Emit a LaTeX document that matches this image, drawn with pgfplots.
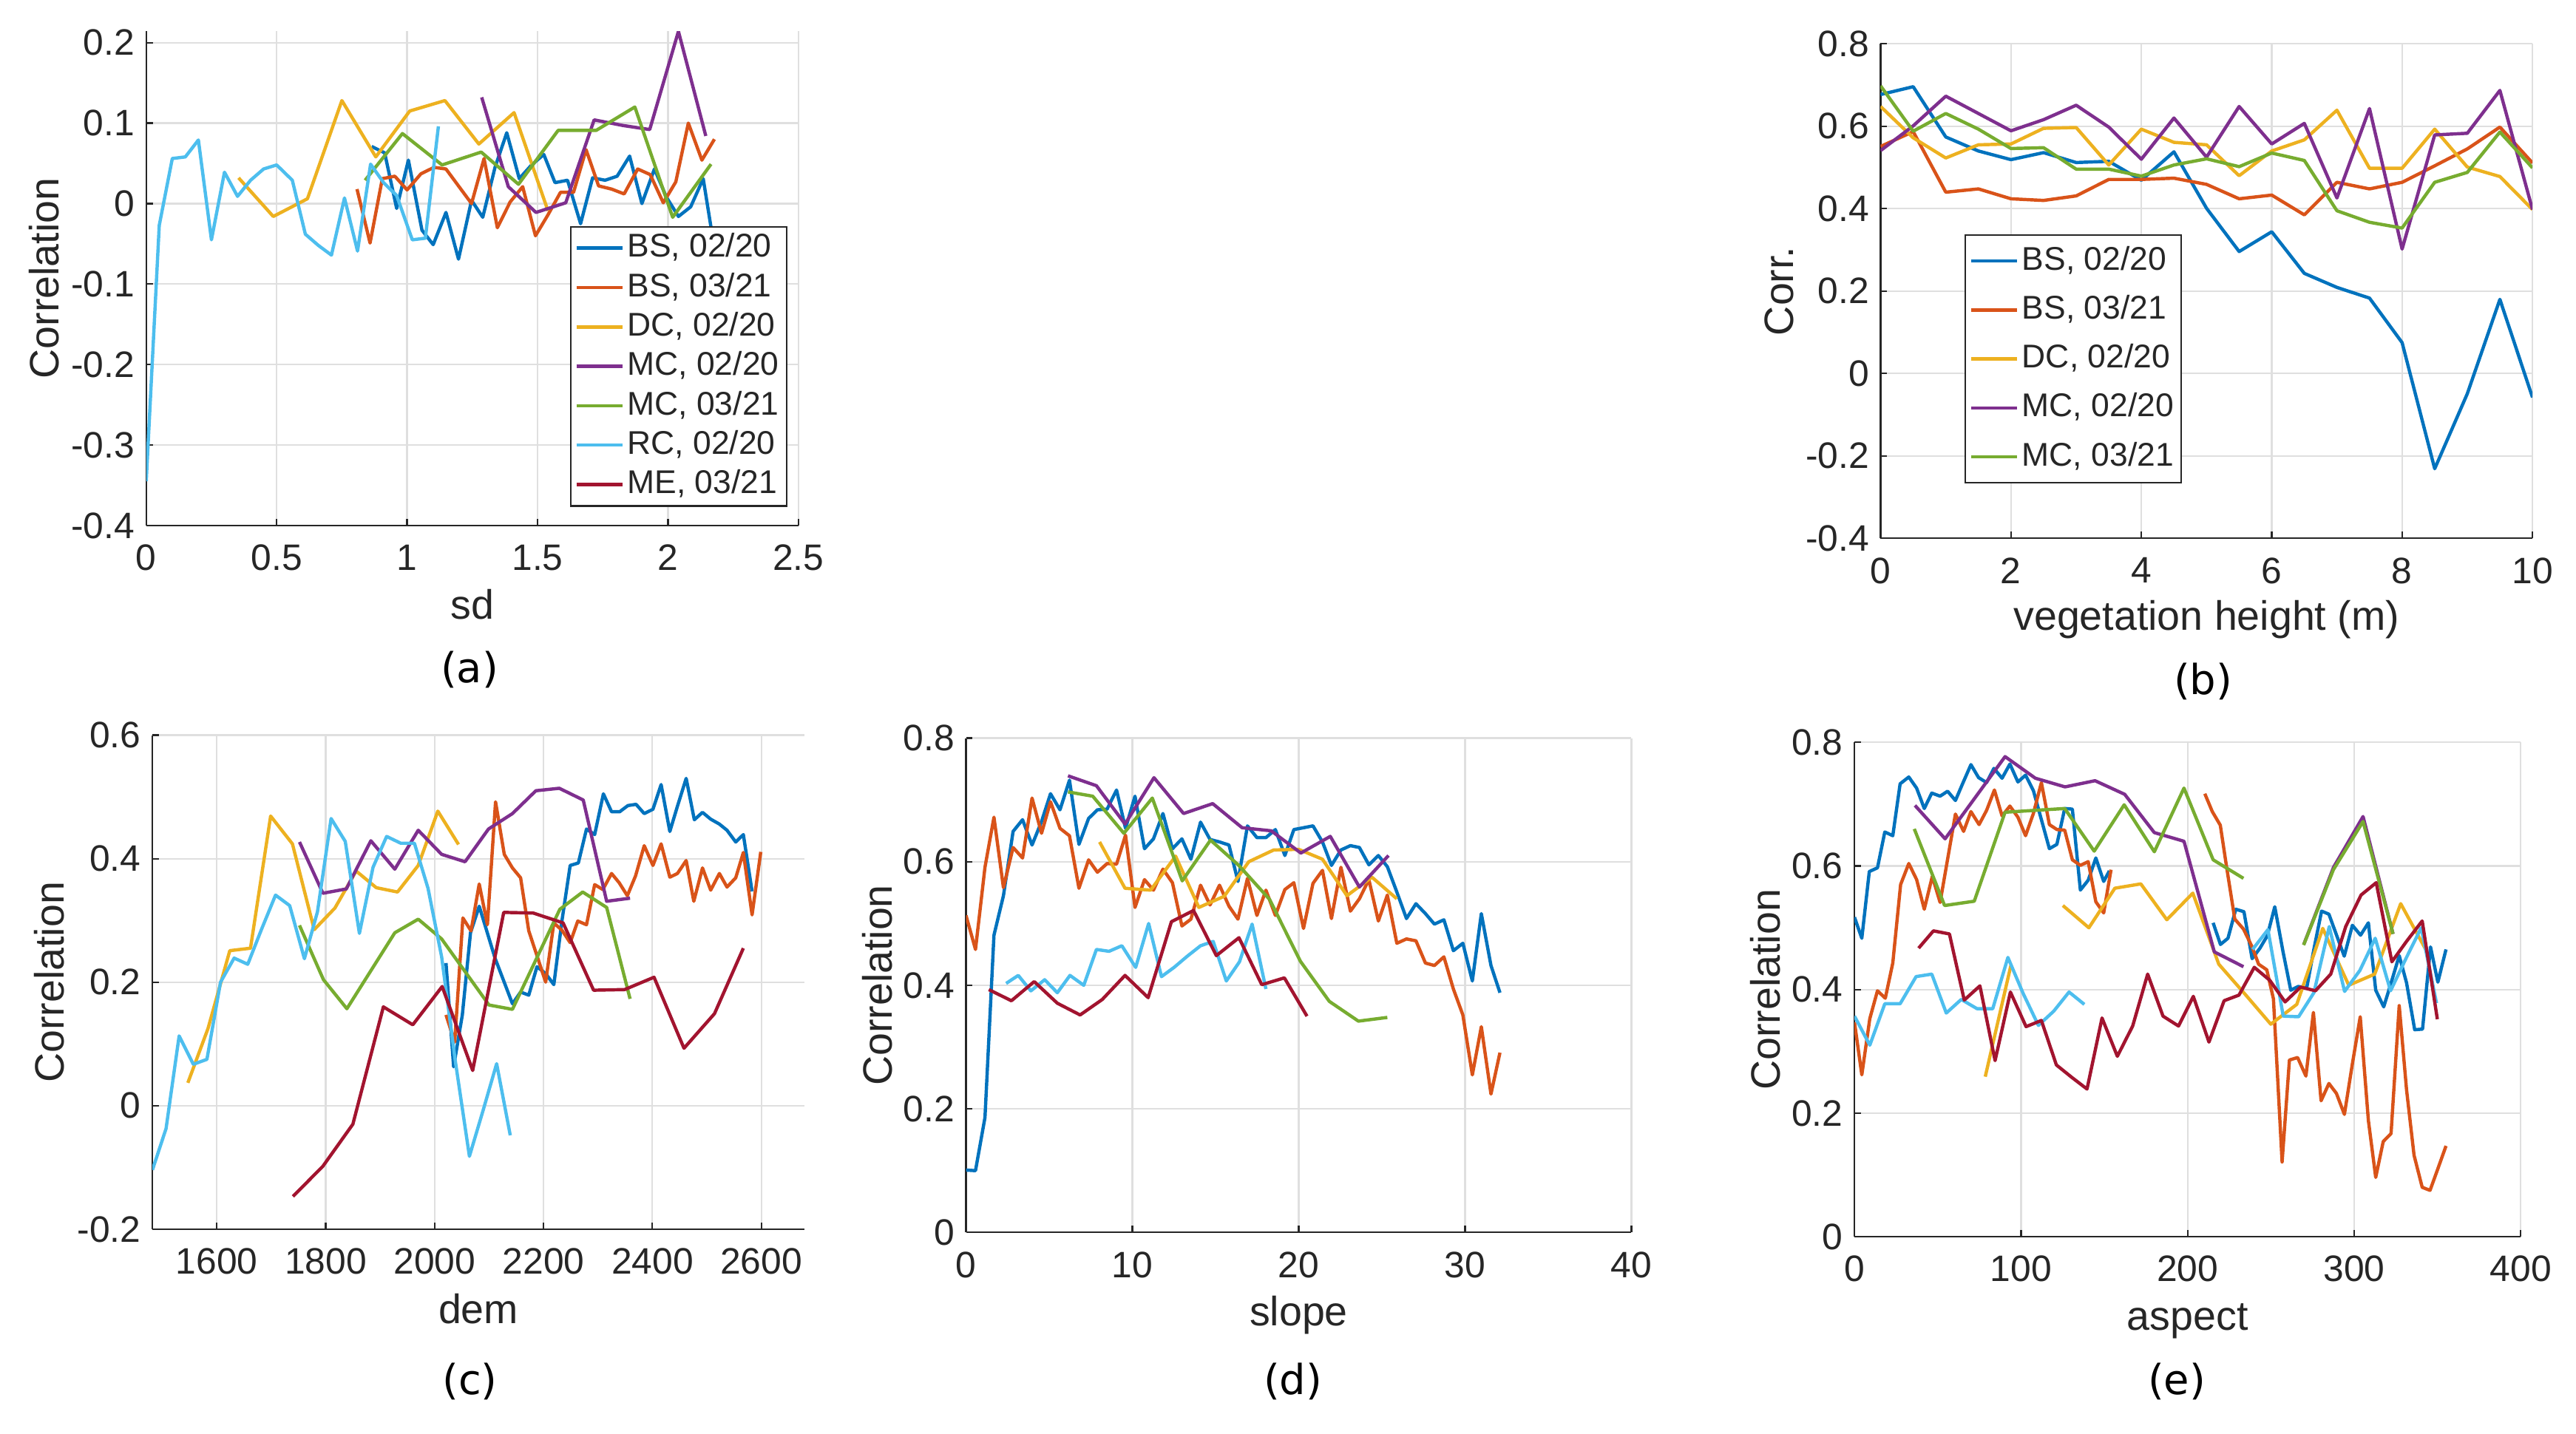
\documentclass[border=0pt]{standalone}
\usepackage{pgfplots}
\pgfplotsset{compat=1.18}
\usepackage{fontspec}
\setmainfont{Liberation Sans}
\newfontfamily\capfont{DejaVu Sans}
\definecolor{c1}{RGB}{0,114,189}
\definecolor{c2}{RGB}{217,83,25}
\definecolor{c3}{RGB}{237,177,32}
\definecolor{c4}{RGB}{126,47,142}
\definecolor{c5}{RGB}{119,172,48}
\definecolor{c6}{RGB}{77,190,238}
\definecolor{c7}{RGB}{162,20,47}
\definecolor{axgray}{RGB}{38,38,38}
\definecolor{gridgray}{RGB}{223,223,223}
\newcommand\tickfont{\fontsize{11.2}{13}\selectfont}
\newcommand\labfont{\fontsize{12.5}{15}\selectfont}
\newcommand\legfont{\fontsize{10}{12}\selectfont}
\pgfplotsset{
  mstyle/.style={
    scale only axis,
    axis x line*=bottom, axis y line*=left,
    axis line style={draw=axgray, line width=0.5pt},
    every tick/.style={draw=axgray, line width=0.5pt},
    tick align=inside,
    major tick length=2pt,
    xmajorgrids, ymajorgrids,
    major grid style={draw=gridgray, line width=0.5pt},
    tick label style={font=\tickfont, text=axgray},
    xticklabel style={yshift=-2.3pt},
    /pgf/number format/assume math mode=true,
    /pgf/number format/1000 sep={},
    scaled ticks=false,
    unbounded coords=jump,
    every axis plot/.append style={line width=1pt, line join=round, mark=none},
    legend image code/.code={\draw[##1, line width=1pt] (0pt,0pt) -- (14pt,0pt);},
    legend cell align=left,
  },
  mleg/.style={legend style={draw=axgray, line width=0.5pt, fill=white, font=\legfont, text=axgray,
    inner xsep=1.3pt, inner ysep=0.5pt, row sep=0pt, column sep=0pt,
    nodes={inner xsep=1pt, inner ysep=#1, text height=7.5pt, text depth=2pt}}},
}
\begin{document}
\begin{tikzpicture}
\useasboundingbox (0,0) rectangle (784pt,436.5pt);
% ---------------- (a)
\begin{axis}[mstyle, name=pa, at={(44.5pt,276.5pt)}, anchor=south west,
  width=198.5pt, height=150.5pt,
  xmin=0, xmax=2.5, ymin=-0.4, ymax=0.2142,
  xtick={0,0.5,1,1.5,2,2.5}, ytick={-0.4,-0.3,-0.2,-0.1,0,0.1,0.2},
  mleg=1.25pt,
  legend style={at={(rel axis cs:0.983,0.038)}, anchor=south east}]
\addplot[c1] coordinates {(0.864,0.071) (0.914,0.063) (0.96,-0.006) (1.005,0.054) (1.057,-0.033) (1.10,-0.051) (1.149,-0.011) (1.197,-0.069) (1.247,0.004) (1.29,-0.017) (1.337,0.045) (1.382,0.088) (1.43,0.031) (1.477,0.048) (1.524,0.061) (1.567,0.026) (1.615,0.029) (1.665,-0.025) (1.711,0.032) (1.759,0.029) (1.805,0.034) (1.853,0.059) (1.9,0.000) (1.948,0.043) (1.994,0.008) (2.04,-0.016) (2.087,-0.004) (2.135,0.031) (2.18,-0.06)};
\addlegendentry{BS, 02/20}
\addplot[c2] coordinates {(0.808,0.018) (0.858,-0.049) (0.905,0.031) (0.953,0.034) (1.0,0.017) (1.053,0.037) (1.103,0.045) (1.149,0.043) (1.247,0.0) (1.295,0.056) (1.346,-0.030) (1.395,0.002) (1.443,0.021) (1.492,-0.040) (1.54,-0.014) (1.588,0.014) (1.638,0.014) (1.686,0.067) (1.734,0.022) (1.784,0.018) (1.832,0.012) (1.884,0.043) (1.932,0.036) (1.982,0.001) (2.03,0.027) (2.078,0.100) (2.13,0.054) (2.178,0.080)};
\addlegendentry{BS, 03/21}
\addplot[c3] coordinates {(0.354,0.032) (0.487,-0.016) (0.618,0.006) (0.75,0.128) (0.88,0.058) (1.01,0.115) (1.145,0.128) (1.275,0.074) (1.41,0.113) (1.54,-0.009)};
\addlegendentry{DC, 02/20}
\addplot[c4] coordinates {(1.286,0.132) (1.388,0.021) (1.494,-0.011) (1.608,0.001) (1.717,0.104) (1.828,0.097) (1.93,0.092) (2.04,0.214) (2.145,0.084)};
\addlegendentry{MC, 02/20}
\addplot[c5] coordinates {(0.839,0.029) (0.982,0.087) (1.134,0.048) (1.284,0.064) (1.427,0.024) (1.579,0.091) (1.725,0.091) (1.873,0.120) (2.018,-0.017) (2.165,0.049)};
\addlegendentry{MC, 03/21}
\addplot[c6] coordinates {(0,-0.345) (0.05,-0.027) (0.1,0.056) (0.15,0.058) (0.2,0.079) (0.25,-0.045) (0.3,0.039) (0.35,0.009) (0.4,0.029) (0.45,0.043) (0.5,0.048) (0.56,0.029) (0.61,-0.038) (0.66,-0.052) (0.71,-0.064) (0.76,0.007) (0.81,-0.059) (0.86,0.049) (0.91,0.026) (0.96,0.010) (1.02,-0.045) (1.07,-0.043) (1.12,0.096)};
\addlegendentry{RC, 02/20}
\addlegendimage{c7, line width=1pt}
\addlegendentry{ME, 03/21}
\end{axis}
% ---------------- (b)
\begin{axis}[mstyle, name=pb, at={(572.35pt,272.6pt)}, anchor=south west,
  width=198.4pt, height=150.55pt,
  xmin=0, xmax=10, ymin=-0.4, ymax=0.8,
  xtick={0,2,4,6,8,10}, ytick={-0.4,-0.2,0,0.2,0.4,0.6,0.8},
  mleg=2.7pt,
  legend style={at={(rel axis cs:0.1286,0.6153)}, anchor=north west}]
\addplot[c1] coordinates {(0,0.677) (0.5,0.696) (1,0.574) (1.5,0.540) (2,0.519) (2.5,0.536) (3,0.512) (3.5,0.515) (4,0.469) (4.5,0.538) (5,0.401) (5.5,0.296) (6,0.344) (6.5,0.243) (7,0.209) (7.5,0.183) (8,0.075) (8.5,-0.231) (9,-0.049) (9.5,0.180) (10,-0.058)};
\addlegendentry{BS, 02/20}
\addplot[c2] coordinates {(0,0.551) (0.5,0.587) (1,0.440) (1.5,0.448) (2,0.424) (2.5,0.420) (3,0.431) (3.5,0.471) (4,0.471) (4.5,0.474) (5,0.459) (5.5,0.424) (6,0.433) (6.5,0.385) (7,0.464) (7.5,0.448) (8,0.464) (8.5,0.504) (9,0.545) (9.5,0.598) (10,0.511)};
\addlegendentry{BS, 03/21}
\addplot[c3] coordinates {(0,0.648) (0.5,0.572) (1,0.523) (1.5,0.555) (2,0.557) (2.5,0.595) (3,0.597) (3.5,0.506) (4,0.593) (4.5,0.561) (5,0.555) (5.5,0.480) (6,0.540) (6.5,0.567) (7,0.639) (7.5,0.498) (8,0.498) (8.5,0.593) (9,0.501) (9.5,0.478) (10,0.398)};
\addlegendentry{DC, 02/20}
\addplot[c4] coordinates {(0,0.541) (0.5,0.601) (1,0.673) (1.5,0.631) (2,0.589) (2.5,0.616) (3,0.651) (3.5,0.598) (4,0.520) (4.5,0.620) (5,0.525) (5.5,0.648) (6,0.557) (6.5,0.607) (7,0.426) (7.5,0.643) (8,0.302) (8.5,0.579) (9,0.583) (9.5,0.687) (10,0.398)};
\addlegendentry{MC, 02/20}
\addplot[c5] coordinates {(0,0.698) (0.5,0.588) (1,0.631) (1.5,0.593) (2,0.546) (2.5,0.548) (3,0.496) (3.5,0.496) (4,0.479) (4.5,0.506) (5,0.521) (5.5,0.502) (6,0.535) (6.5,0.517) (7,0.395) (7.5,0.367) (8,0.353) (8.5,0.464) (9,0.488) (9.5,0.586) (10,0.499)};
\addlegendentry{MC, 03/21}
\end{axis}
% ---------------- (c)
\begin{axis}[mstyle, name=pc, at={(46.4pt,62.3pt)}, anchor=south west,
  width=198.4pt, height=150.4pt,
  xmin=1482, xmax=2679, ymin=-0.2, ymax=0.6,
  xtick={1600,1800,2000,2200,2400,2600}, ytick={-0.2,0,0.2,0.4,0.6}]
\addplot[c1] coordinates {(2021,0.231) (2035,0.063) (2051,0.147) (2066,0.280) (2082,0.323) (2111,0.239) (2143,0.165) (2158,0.184) (2173,0.179) (2188,0.225) (2204,0.214) (2219,0.196) (2234,0.300) (2249,0.389) (2264,0.393) (2279,0.448) (2294,0.439) (2310,0.505) (2325,0.476) (2340,0.476) (2355,0.486) (2370,0.488) (2385,0.473) (2401,0.480) (2416,0.520) (2432,0.444) (2446,0.485) (2462,0.530) (2477,0.463) (2492,0.475) (2507,0.464) (2523,0.456) (2537,0.446) (2553,0.427) (2567,0.439) (2583,0.347)};
\addplot[c2] coordinates {(2021,0.147) (2037,0.103) (2052,0.304) (2067,0.283) (2082,0.359) (2097,0.293) (2112,0.492) (2128,0.407) (2143,0.385) (2158,0.369) (2173,0.283) (2188,0.243) (2204,0.200) (2219,0.296) (2234,0.284) (2249,0.264) (2263,0.299) (2279,0.293) (2294,0.358) (2309,0.350) (2325,0.376) (2339,0.361) (2354,0.340) (2369,0.372) (2385,0.421) (2401,0.389) (2416,0.424) (2432,0.370) (2446,0.376) (2462,0.397) (2476,0.331) (2492,0.385) (2507,0.349) (2523,0.376) (2537,0.354) (2553,0.369) (2567,0.410) (2583,0.309) (2599,0.411)};
\addplot[c3] coordinates {(1547,0.037) (1584,0.125) (1624,0.251) (1662,0.255) (1699,0.469) (1739,0.424) (1779,0.285) (1817,0.320) (1856,0.380) (1893,0.353) (1932,0.346) (1970,0.389) (2006,0.477) (2044,0.423)};
\addplot[c4] coordinates {(1752,0.427) (1795,0.344) (1838,0.351) (1883,0.429) (1927,0.383) (1970,0.446) (2013,0.407) (2056,0.395) (2099,0.448) (2143,0.473) (2186,0.510) (2229,0.514) (2273,0.495) (2316,0.331) (2359,0.336)};
\addplot[c5] coordinates {(1752,0.292) (1796,0.204) (1839,0.157) (1927,0.280) (1970,0.302) (2013,0.270) (2100,0.163) (2143,0.156) (2230,0.318) (2272,0.346) (2316,0.321) (2359,0.173)};
\addplot[c6] coordinates {(1482,-0.104) (1507,-0.037) (1531,0.113) (1557,0.067) (1582,0.075) (1607,0.200) (1632,0.239) (1657,0.229) (1682,0.285) (1708,0.341) (1734,0.324) (1761,0.238) (1785,0.314) (1810,0.465) (1836,0.428) (1862,0.279) (1887,0.386) (1912,0.436) (1938,0.425) (1963,0.425) (1988,0.352) (2013,0.241) (2038,0.073) (2064,-0.082) (2089,-0.008) (2114,0.068) (2139,-0.048)};
\addplot[c7] coordinates {(1740,-0.147) (1795,-0.098) (1850,-0.030) (1906,0.160) (1960,0.131) (2014,0.193) (2070,0.057) (2127,0.313) (2181,0.312) (2236,0.296) (2292,0.187) (2349,0.188) (2403,0.208) (2458,0.093) (2514,0.149) (2567,0.255)};
\end{axis}
% ---------------- (d)
\begin{axis}[mstyle, name=pd, at={(294pt,61.3pt)}, anchor=south west,
  width=202.5pt, height=150.5pt,
  xmin=0, xmax=40, ymin=0, ymax=0.8,
  xtick={0,10,20,30,40}, ytick={0,0.2,0.4,0.6,0.8}]
\addplot[c1] coordinates {(0,0.101) (0.57,0.100) (1.14,0.186) (1.68,0.481) (2.25,0.545) (2.83,0.649) (3.40,0.668) (3.97,0.627) (4.54,0.665) (5.08,0.710) (5.65,0.684) (6.22,0.732) (6.79,0.628) (7.37,0.670) (7.90,0.684) (8.48,0.685) (9.05,0.716) (9.59,0.654) (10.16,0.706) (10.73,0.621) (11.27,0.637) (11.84,0.678) (12.41,0.621) (12.98,0.637) (13.52,0.604) (14.10,0.664) (14.67,0.636) (15.24,0.632) (15.81,0.627) (16.35,0.568) (16.92,0.658) (17.49,0.639) (18.03,0.639) (18.60,0.652) (19.17,0.610) (19.71,0.652) (20.29,0.655) (20.86,0.658) (21.43,0.632) (21.97,0.594) (22.54,0.619) (23.11,0.626) (23.65,0.623) (24.22,0.595) (24.79,0.610) (25.33,0.592) (25.90,0.551) (26.48,0.508) (27.05,0.532) (27.62,0.516) (28.16,0.499) (28.73,0.506) (29.30,0.456) (29.87,0.468) (30.44,0.407) (30.98,0.516) (31.56,0.432) (32.10,0.388)};
\addplot[c2] coordinates {(0,0.513) (0.57,0.458) (1.14,0.591) (1.68,0.672) (2.25,0.558) (2.83,0.623) (3.40,0.606) (3.97,0.703) (4.54,0.646) (5.08,0.697) (5.65,0.654) (6.22,0.642) (6.79,0.557) (7.37,0.603) (7.90,0.583) (8.48,0.597) (9.05,0.596) (9.59,0.643) (10.16,0.526) (10.73,0.571) (11.27,0.554) (11.84,0.588) (12.41,0.566) (12.98,0.496) (13.52,0.507) (14.10,0.562) (14.67,0.530) (15.24,0.562) (15.81,0.528) (16.35,0.507) (16.92,0.573) (17.49,0.513) (18.03,0.554) (18.60,0.513) (19.17,0.555) (19.71,0.566) (20.29,0.492) (20.86,0.565) (21.43,0.586) (21.97,0.508) (22.54,0.591) (23.11,0.520) (23.65,0.540) (24.22,0.571) (24.79,0.504) (25.33,0.546) (25.90,0.468) (26.48,0.475) (27.05,0.472) (27.62,0.436) (28.16,0.432) (28.73,0.446) (29.30,0.394) (29.87,0.352) (30.44,0.255) (30.98,0.333) (31.56,0.224) (32.10,0.291)};
\addplot[c3] coordinates {(8.03,0.632) (9.56,0.557) (11.1,0.554) (12.6,0.609) (14.0,0.526) (15.52,0.544) (17.0,0.600) (18.5,0.619) (20.0,0.620) (21.43,0.604) (22.9,0.545) (24.4,0.575) (25.9,0.540)};
\addplot[c4] coordinates {(6.13,0.739) (7.84,0.723) (9.56,0.661) (11.3,0.736) (13.08,0.678) (14.83,0.694) (16.6,0.655) (18.35,0.650) (20.13,0.614) (21.9,0.641) (23.65,0.559) (25.4,0.610)};
\addplot[c5] coordinates {(6.13,0.713) (7.62,0.706) (9.49,0.646) (11.2,0.703) (13.0,0.569) (14.7,0.635) (16.4,0.594) (18.25,0.539) (20.1,0.439) (21.84,0.374) (23.59,0.342) (25.33,0.348)};
\addplot[c6] coordinates {(2.41,0.403) (3.14,0.416) (3.9,0.391) (4.73,0.409) (5.49,0.388) (6.25,0.416) (7.08,0.400) (7.84,0.458) (8.6,0.455) (9.37,0.464) (10.2,0.429) (10.98,0.500) (11.75,0.414) (12.51,0.429) (13.3,0.447) (14.1,0.464) (14.86,0.471) (15.65,0.407) (16.44,0.438) (17.2,0.499) (18.03,0.394)};
\addplot[c7] coordinates {(1.37,0.393) (2.73,0.375) (4.1,0.406) (5.49,0.371) (6.86,0.352) (8.19,0.377) (9.56,0.416) (10.95,0.380) (12.35,0.503) (13.68,0.521) (15.05,0.448) (16.41,0.477) (17.78,0.401) (19.14,0.412) (20.5,0.350)};
\end{axis}
% ---------------- (e)
\begin{axis}[mstyle, name=pe, at={(564.4pt,60pt)}, anchor=south west,
  width=202.8pt, height=150.5pt,
  xmin=0, xmax=400, ymin=0, ymax=0.8,
  xtick={0,100,200,300,400}, ytick={0,0.2,0.4,0.6,0.8}]
\addplot[c1] coordinates {(0,0.517) (4.4,0.483) (8.9,0.591) (13.8,0.597) (18.2,0.655) (23.0,0.649) (27.4,0.733) (32.6,0.744) (37.3,0.726) (41.9,0.693) (46.4,0.718) (51.4,0.713) (55.9,0.721) (60.6,0.706) (65.2,0.735) (69.9,0.764) (74.5,0.743) (79.3,0.735) (83.7,0.758) (88.6,0.742) (93.3,0.765) (98.1,0.736) (102.7,0.747) (107.4,0.722) (112.2,0.675) (117.0,0.628) (121.5,0.635) (126.2,0.693) (130.8,0.692) (135.6,0.561) (140.3,0.577) (144.9,0.613) (149.6,0.575) (153.0,0.592) (180,nan) (215.3,0.508) (219.7,0.473) (224.2,0.483) (228.9,0.530) (233.8,0.526) (238.7,0.450) (243.4,0.467) (247.8,0.487) (252.3,0.534) (257.2,0.462) (261.9,0.399) (266.3,0.405) (271.5,0.403) (275.9,0.467) (280.4,0.527) (284.8,0.522) (294.0,0.454) (298.9,0.504) (303.8,0.488) (308.5,0.508) (312.9,0.399) (317.7,0.372) (322.6,0.415) (327.0,0.455) (331.4,0.411) (336.3,0.335) (341.0,0.336) (345.8,0.469) (350.2,0.412) (355.1,0.465)};
\addplot[c2] coordinates {(0,0.347) (4.4,0.262) (9.2,0.353) (13.8,0.398) (18.5,0.386) (23.0,0.443) (27.7,0.570) (32.6,0.604) (37.3,0.578) (41.9,0.530) (46.7,0.583) (51.4,0.541) (60.6,0.684) (65.5,0.656) (69.9,0.688) (74.8,0.667) (79.3,0.690) (84.0,0.723) (88.6,0.681) (93.3,0.697) (98.1,0.679) (102.7,0.649) (107.4,0.685) (112.2,0.735) (117.0,0.667) (121.5,0.659) (126.2,0.658) (130.8,0.610) (135.6,0.601) (140.3,0.607) (144.9,0.542) (149.6,0.524) (154.0,0.594) (180,nan) (210.3,0.717) (214.8,0.688) (219.6,0.666) (223.4,0.598) (228.3,0.514) (233.5,0.498) (238.7,0.469) (242.6,0.441) (247.5,0.432) (251.5,0.385) (256.7,0.121) (261.1,0.286) (266.0,0.290) (271.0,0.260) (275.5,0.363) (280.1,0.220) (284.8,0.248) (289.3,0.232) (294.1,0.198) (298.9,0.280) (303.6,0.356) (308.5,0.188) (312.9,0.096) (317.4,0.154) (322.1,0.167) (327.0,0.374) (331.4,0.238) (335.9,0.132) (340.8,0.080) (345.5,0.075) (350.2,0.110) (355.1,0.147)};
\addplot[c3] coordinates {(78.5,0.259) (93.9,0.439) (109.5,nan) (125.1,0.536) (140.7,0.500) (156.3,0.564) (171.9,0.571) (187.5,0.513) (203.1,0.556) (218.7,0.441) (234.3,0.393) (249.9,0.344) (265.5,0.376) (281.1,0.499) (296.7,0.407) (312.3,0.425) (327.9,0.539) (343.5,0.462)};
\addplot[c4] coordinates {(36.3,0.698) (54.4,0.644) (90.4,0.777) (108.6,0.742) (126.4,0.728) (144.4,0.738) (162.2,0.716) (180.0,0.654) (197.8,0.640) (216.0,0.461) (233.5,0.437) (250,nan) (269.7,0.473) (287.6,0.598) (305.3,0.680) (323.3,0.490)};
\addplot[c5] coordinates {(35.9,0.660) (54.1,0.536) (71.9,0.543) (90.4,0.687) (108.2,0.690) (126.2,0.693) (143.9,0.624) (161.9,0.699) (180.0,0.623) (197.8,0.726) (215.3,0.610) (233.5,0.580) (250,nan) (269.6,0.472) (287.5,0.594) (305.3,0.672) (323.3,0.490)};
\addplot[c6] coordinates {(0,0.357) (9.2,0.310) (18.2,0.377) (27.4,0.377) (37.0,0.421) (46.4,0.425) (55.1,0.362) (64.1,0.384) (73.6,0.369) (83.0,0.369) (92.1,0.452) (101.2,0.394) (110.4,0.342) (119.6,0.365) (128.8,0.396) (138.0,0.376) (190,nan) (239.0,0.465) (248.2,0.497) (257.4,0.357) (266.6,0.356) (275.8,0.395) (285.0,0.502) (294.2,0.397) (303.4,0.431) (312.6,0.483) (321.8,0.398) (331.0,0.450) (340.2,0.500) (349.4,0.378)};
\addplot[c7] coordinates {(38.5,0.467) (47.4,0.495) (57.0,0.490) (65.9,0.383) (75.3,0.406) (84.4,0.285) (93.6,0.396) (103.0,0.340) (112.2,0.350) (121.2,0.278) (130.4,0.258) (139.6,0.239) (148.6,0.354) (157.8,0.292) (167.0,0.341) (176.0,0.425) (185.2,0.357) (194.5,0.341) (203.4,0.389) (212.8,0.315) (221.9,0.382) (230.8,0.391) (240.0,0.436) (249.3,0.415) (258.5,0.380) (267.8,0.404) (276.7,0.398) (285.9,0.425) (294.9,0.502) (304.1,0.553) (313.2,0.573) (322.6,0.445) (331.4,0.478) (340.8,0.511) (349.9,0.352)};
\end{axis}
% ---------------- labels
\begin{scope}[every node/.style={font=\labfont, text=axgray}]
\node[anchor=base] at ([yshift=-28.5pt]pa.south) {sd};
\node[anchor=base] at ([yshift=-28pt]pb.south) {vegetation height (m)};
\node[anchor=base] at ([yshift=-28.8pt]pc.south) {dem};
\node[anchor=base] at ([yshift=-28.5pt]pd.south) {slope};
\node[anchor=base] at ([yshift=-28.5pt]pe.south) {aspect};
\node[rotate=90, anchor=base] at ([xshift=-26.7pt]pa.west) {Correlation};
\node[rotate=90, anchor=base] at ([xshift=-26.5pt]pb.west) {Corr.};
\node[rotate=90, anchor=base] at ([xshift=-26.9pt]pc.west) {Correlation};
\node[rotate=90, anchor=base] at ([xshift=-22.6pt]pd.west) {Correlation};
\node[rotate=90, anchor=base] at ([xshift=-22.7pt]pe.west) {Correlation};
\end{scope}
\begin{scope}[every node/.style={font=\capfont\fontsize{12.6}{15}\selectfont, anchor=base}]
\node at (142.9pt,228.6pt) {(a)};
\node at (670.5pt,225pt) {(b)};
\node at (143pt,12pt) {(c)};
\node at (393.5pt,12pt) {(d)};
\node at (662.5pt,12pt) {(e)};
\end{scope}
\end{tikzpicture}
\end{document}
